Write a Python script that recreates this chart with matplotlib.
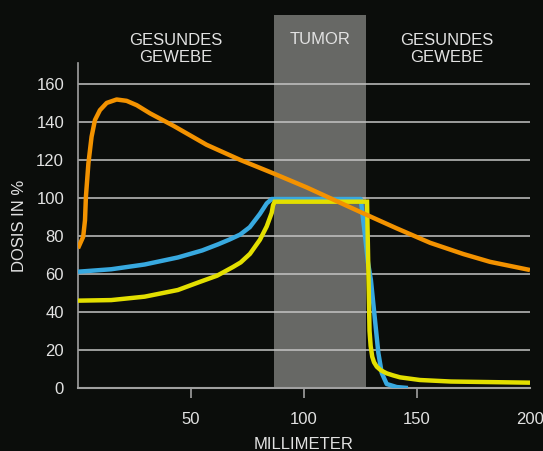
import matplotlib
matplotlib.use("Agg")
import matplotlib.pyplot as plt

# Tiefendosis-Kurven (Millimeter gegen Dosis in %)
orange_x = [0, 2.3, 3.1, 3.5, 4.6, 6.0, 7.5, 9.7, 12.7, 17.1, 21.5, 26, 31.9,
            42.2, 56.9, 71.7, 86.4, 101.2, 111.5, 126.2, 141, 155.8, 170.5, 182.3, 200]
orange_y = [73.4, 79.5, 88.2, 100.5, 118, 132, 140.8, 146, 149.8, 151.6, 150.9, 148.6, 144.3,
            137.8, 127.8, 119.9, 112.8, 105.4, 99.8, 91.8, 83.9, 76.3, 70.4, 66.3, 62]

blue_x = [0, 14.7, 29.5, 44.2, 55, 62, 67, 71.7, 76, 80.5, 83.5, 85.7, 125.1,
          126.2, 127, 128.3, 129.6, 131.4, 132.9, 134.4, 136.6, 141, 146]
blue_y = [61.1, 62.4, 64.9, 68.6, 72.3, 75.5, 78, 80.6, 84.5, 91.5, 97, 99.3, 99.3,
          88.2, 80, 66, 56.8, 35.8, 18.4, 7.9, 2.1, 0.5, 0]

yellow_x = [0, 14.7, 29.5, 44.2, 54, 61.5, 68.6, 72, 76.1, 80.5, 83.5, 85.7, 86.3, 87,
            127.9, 128.5, 129, 129.5, 130.2, 131, 132.2, 134, 136.6, 139.5, 142.5,
            151.3, 165, 200]
yellow_y = [45.9, 46.2, 48, 51.5, 55.8, 59, 63.6, 66, 70.5, 77.9, 84.9, 92, 96, 97.9,
            97.9, 60, 30, 22, 16.4, 13.5, 11.2, 9.3, 7.7, 6.6, 5.6,
            4.2, 3.4, 2.8]

tumor_start = 86.7
tumor_end = 127.4
x_ticks = [50, 100, 150, 200]
y_ticks = [0, 20, 40, 60, 80, 100, 120, 140, 160]

bg = "#0b0d0b"
txt = "#e2e2e2"
plt.rcParams["font.family"] = ["Liberation Sans", "DejaVu Sans"]

fig = plt.figure(figsize=(5.43, 4.51), dpi=100, facecolor=bg)
ax = fig.add_axes([78 / 543, 1 - 388 / 451, 452 / 543, 373 / 451])
ax.set_facecolor(bg)

# Tumorbereich
ax.axvspan(tumor_start, tumor_end, color="#676865", zorder=0, lw=0)

# Gitterlinien
for v in y_ticks[1:]:
    ax.axhline(v, color="#c4c4c4", lw=1.1, zorder=1)

ax.plot(blue_x, blue_y, color="#38a9e0", lw=3.2, zorder=3, solid_joinstyle="round", solid_capstyle="butt")
ax.plot(yellow_x, yellow_y, color="#e3df00", lw=3.2, zorder=4, solid_joinstyle="miter", solid_capstyle="butt")
ax.plot(orange_x, orange_y, color="#f39200", lw=3.2, zorder=5, solid_joinstyle="round", solid_capstyle="butt")

ax.set_xlim(0, 200)
ax.set_ylim(0, 196)

for s in ["top", "right"]:
    ax.spines[s].set_visible(False)
ax.spines["left"].set_color("#a0a0a0")
ax.spines["bottom"].set_color("#a0a0a0")
ax.spines["left"].set_linewidth(1.2)
ax.spines["bottom"].set_linewidth(1.5)
ax.spines["left"].set_bounds(0, 171)

ax.set_xticks(x_ticks)
ax.set_xticklabels([str(t) for t in x_ticks])
ax.set_yticks(y_ticks)
ax.set_yticklabels([str(t) for t in y_ticks])
ax.tick_params(axis="x", direction="out", length=7, width=1.2, color="#a0a0a0",
               labelcolor=txt, labelsize=12, pad=10)
ax.tick_params(axis="y", length=0, labelcolor=txt, labelsize=12, pad=10)
ax.xaxis.get_major_ticks()[-1].tick1line.set_visible(False)

# Bereichsbeschriftungen oben
ax.text(43.4, 178, "GESUNDES\nGEWEBE", color=txt, fontsize=12, ha="center", va="center", linespacing=1.15)
ax.text(107, 183, "TUMOR", color=txt, fontsize=12, ha="center", va="center")
ax.text(163, 178, "GESUNDES\nGEWEBE", color=txt, fontsize=12, ha="center", va="center", linespacing=1.15)

fig.text(20 / 543, 1 - 226 / 451, "DOSIS IN %", color=txt, fontsize=12, rotation=90,
         ha="center", va="center")
fig.text(304 / 543, 1 - 449 / 451, "MILLIMETER", color=txt, fontsize=12, ha="center", va="baseline")

fig.savefig("out.png", dpi=100, facecolor=bg)
